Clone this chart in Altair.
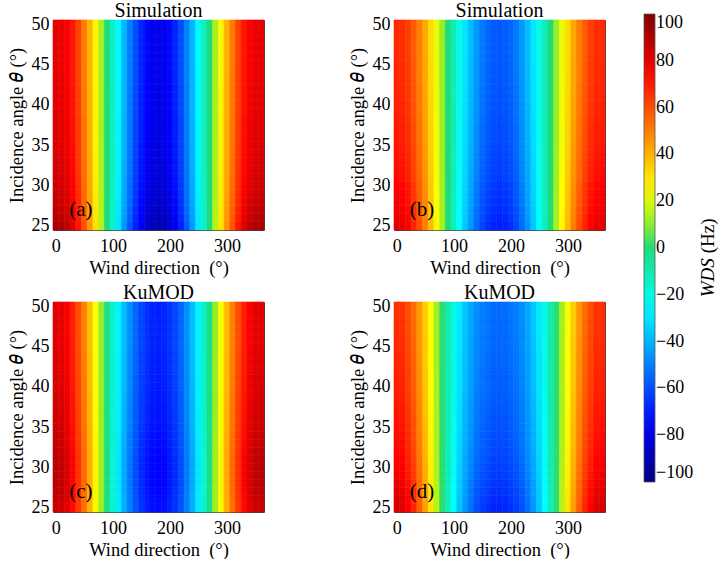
import altair as alt
import pandas as pd

# ---------------- data ----------------
wind_dir = [0, 10, 20, 30, 40, 50, 60, 70, 80, 90, 100, 110, 120, 130, 140, 150, 160, 170, 180,
            190, 200, 210, 220, 230, 240, 250, 260, 270, 280, 290, 300, 310, 320, 330, 340, 350, 360]
inc_angle = [25, 26, 27, 28, 29, 30, 31, 32, 33, 34, 35, 36, 37, 38, 39, 40, 41, 42, 43, 44, 45,
             46, 47, 48, 49, 50]

panels = ["a", "b", "c", "d"]
panel_titles = ["Simulation", "Simulation", "KuMOD", "KuMOD"]

# WDS (Hz) along wind direction at theta = 50 deg, per panel
a_top = [80, 79, 76, 71, 62, 51, 40, 27, 13, 0, -13, -26, -39, -50, -60, -68, -74, -78, -79,
         -78, -74, -68, -60, -50, -39, -26, -13, 0, 13, 27, 40, 51, 62, 71, 76, 79, 80]
b_top = [67, 66, 63, 57, 50, 42, 32, 22, 11, 0, -11, -21, -30, -38, -45, -51, -55, -57, -58,
         -57, -55, -51, -45, -38, -30, -21, -11, 0, 11, 22, 32, 42, 50, 57, 63, 66, 67]
c_top = [81, 80, 76, 69, 60, 50, 38, 25, 11, -2, -15, -27, -38, -47, -55, -61, -65, -68, -69,
         -68, -65, -61, -55, -47, -38, -27, -15, -2, 11, 25, 38, 50, 60, 69, 76, 80, 81]
d_top = [66, 65, 60, 54, 45, 35, 24, 12, 1, -10, -20, -29, -36, -42, -47, -50, -52, -54, -54,
         -54, -52, -50, -47, -42, -36, -29, -20, -10, 1, 12, 24, 35, 45, 54, 60, 65, 66]

# relative strength of WDS versus incidence angle (25 ... 50 deg), per panel
a_gain = [1.15, 1.12, 1.10, 1.08, 1.07, 1.06, 1.05, 1.04, 1.04, 1.03, 1.03, 1.02, 1.02,
          1.02, 1.01, 1.01, 1.01, 1.01, 1.00, 1.00, 1.00, 1.00, 1.00, 1.00, 1.00, 1.00]
b_gain = [1.20, 1.18, 1.16, 1.14, 1.13, 1.12, 1.10, 1.09, 1.08, 1.07, 1.06, 1.05, 1.05,
          1.04, 1.03, 1.03, 1.02, 1.02, 1.01, 1.01, 1.01, 1.00, 1.00, 1.00, 1.00, 1.00]
c_gain = [1.06, 1.07, 1.08, 1.09, 1.09, 1.09, 1.09, 1.08, 1.07, 1.06, 1.05, 1.04, 1.04,
          1.03, 1.03, 1.02, 1.02, 1.01, 1.01, 1.01, 1.00, 1.00, 1.00, 1.00, 1.00, 1.00]
d_gain = [1.26, 1.24, 1.22, 1.20, 1.18, 1.16, 1.15, 1.13, 1.12, 1.11, 1.10, 1.09, 1.08,
          1.07, 1.06, 1.05, 1.05, 1.04, 1.03, 1.03, 1.02, 1.02, 1.01, 1.01, 1.00, 1.00]

x_ticks = [0, 100, 200, 300]
y_ticks = [25, 30, 35, 40, 45, 50]
cbar_ticks = [-100, -80, -60, -40, -20, 0, 20, 40, 60, 80, 100]

# jet-like colormap stops
jet_domain = [-100, -75, -25, 0, 12, 25, 75, 100]
jet_range = ["#000080", "#0000ff", "#00ffff", "#20dc78", "#a0f020", "#ffff00", "#ff0000", "#800000"]

NBSP = "\u00a0"
cbar_title_parts = ["WDS", "(Hz)"]
x_title = "Wind direction" + NBSP + NBSP + "(°)"
y_title = "Incidence angle 𝜃 (°)"

# ---------------- table ----------------
tops = [a_top, b_top, c_top, d_top]
gains = [a_gain, b_gain, c_gain, d_gain]
rows = []
for p, top, gain in zip(panels, tops, gains):
    for i, th in enumerate(inc_angle):
        for j, wd in enumerate(wind_dir):
            rows.append({"panel": p, "tag": "(" + p + ")", "wd": wd, "inc": th,
                         "wds": round(top[j] * gain[i], 2)})
df = pd.DataFrame(rows)

FONT = "Liberation Serif"
color_scale = alt.Scale(domain=jet_domain, range=jet_range, interpolate="rgb")
x_scale = alt.Scale(domain=[-5, 365], nice=False, zero=False)
y_scale = alt.Scale(domain=[24.5, 50.5], nice=False, zero=False)

x_axis = alt.Axis(values=x_ticks, title=x_title, ticks=False, domain=False,
                  grid=False, labelPadding=7, titlePadding=3, labelFontSize=18, titleFontSize=18.5,
                  labelFont=FONT, titleFont=FONT, titleFontWeight="normal",
                  labelColor="black", titleColor="black")
y_axis = alt.Axis(values=y_ticks, title=y_title, ticks=False, domain=False,
                  grid=False, labelPadding=4, titlePadding=5, labelFontSize=18, titleFontSize=18.5,
                  labelFont=FONT, titleFont=FONT + ", DejaVu Serif", titleFontWeight="normal",
                  labelColor="black", titleColor="black")

legend = alt.Legend(type="gradient", orient="none", legendX=591, legendY=-6, direction="vertical",
                    gradientLength=468, gradientThickness=11, values=cbar_ticks,
                    labelFont=FONT, labelFontSize=18, labelOffset=1, labelOverlap=False,
                    labelColor="black", title=None, gradientStrokeColor="#555555",
                    gradientStrokeWidth=0.8)

base = alt.Chart(df)

# each cell is outlined in its own colour so no hairline seams show between cells
heat = base.transform_calculate(
    x0="datum.wd - 5", x1="datum.wd + 5", y0="datum.inc - 0.5", y1="datum.inc + 0.5"
).mark_rect(
    stroke=alt.ExprRef(expr="scale('color', datum.wds)"), strokeWidth=0.6
).encode(
    x=alt.X("x0:Q", scale=x_scale, axis=x_axis),
    x2="x1:Q",
    y=alt.Y("y0:Q", scale=y_scale, axis=y_axis),
    y2="y1:Q",
    color=alt.Color("wds:Q", scale=color_scale, legend=legend),
)

one_per_panel = "datum.wd == 0 && datum.inc == 25"

tags = base.transform_filter(one_per_panel).mark_text(
    font=FONT, fontSize=21, color="black"
).encode(x=alt.datum(44), y=alt.datum(27), text="tag:N")

# colour-bar title, drawn beside panel (b) (italic quantity + upright unit)
cbar_t1 = base.transform_filter(one_per_panel + " && datum.panel == 'b'").mark_text(
    font=FONT, fontSize=19, fontStyle="italic", color="black", angle=270,
    align="right", baseline="middle", text=cbar_title_parts[0]
).encode(x=alt.datum(545), y=alt.datum(21.0))
cbar_t2 = base.transform_filter(one_per_panel + " && datum.panel == 'b'").mark_text(
    font=FONT, fontSize=19, color="black", angle=270, dx=5,
    align="left", baseline="middle", text=cbar_title_parts[1]
).encode(x=alt.datum(545), y=alt.datum(21.0))

label_expr = " : ".join(
    f"datum.value == '{p}' ? '{t}'" for p, t in zip(panels[:-1], panel_titles[:-1])
) + f" : '{panel_titles[-1]}'"

chart = alt.layer(heat, tags, cbar_t1, cbar_t2).properties(width=211, height=210).facet(
    facet=alt.Facet("panel:N", title=None, sort=panels,
                    header=alt.Header(labelExpr=label_expr, labelFont=FONT, labelFontSize=20,
                                      labelColor="black", labelPadding=-6)),
    columns=2,
    spacing={"row": 72, "column": 130},
    bounds="flush",
).resolve_axis(x="independent", y="independent").properties(
    padding={"left": 6, "top": 0, "right": 0, "bottom": 0},
    background="white",
).configure_view(stroke="#444444", strokeWidth=1)

chart.save("out.html", embed_options={"renderer": "svg", "actions": False})
